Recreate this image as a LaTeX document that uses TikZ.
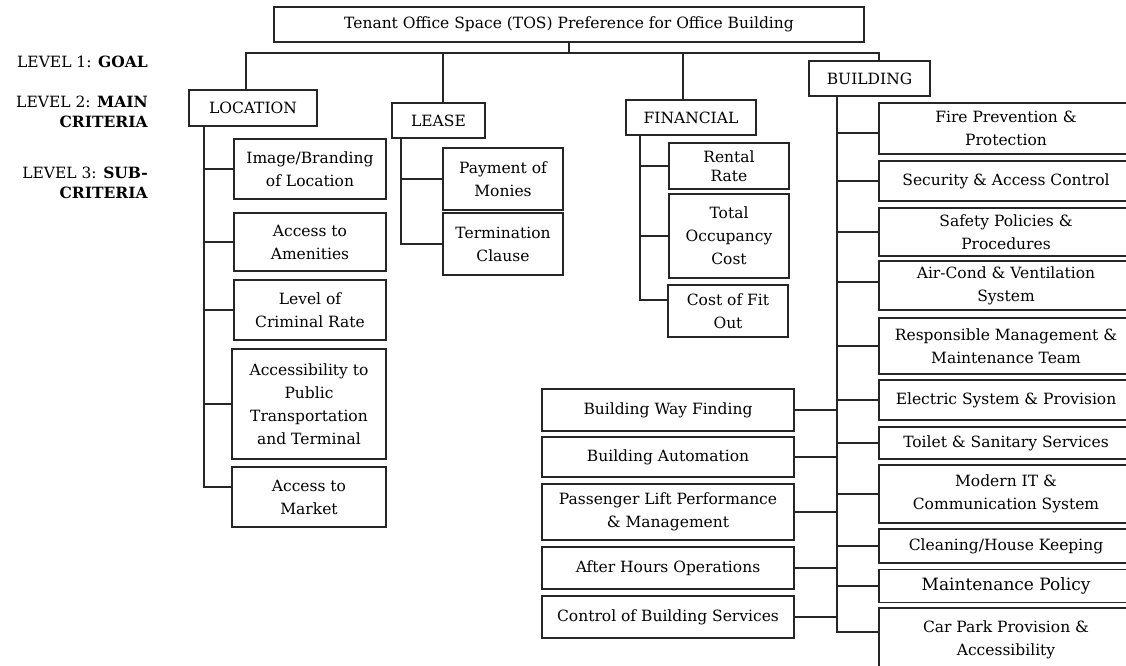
\documentclass[tikz,border=0pt]{standalone}
\usepackage{fontspec}
\setmainfont{DejaVu Serif}
\newcommand{\boxfont}{\fontsize{15.5}{23}\selectfont}
\begin{document}
\begin{tikzpicture}[x=1pt, y=-1pt,
    crit/.style={rectangle, draw=black!85, line width=1.3pt, inner sep=0pt,
                 align=center, font=\boxfont},
    boxsize/.style 2 args={minimum width=#1pt, minimum height=#2pt},
    link/.style={draw=black!85, line width=1.3pt},
    lvl/.style={anchor=east, align=right, inner sep=0pt, font=\fontsize{15.5}{20}\selectfont}
]
    \useasboundingbox (0,0) rectangle (1126,665);
    \clip (0,0) rectangle (1126,665);

    % level labels
    \node[lvl] (lv1) at (148,62)  {LEVEL 1: \textbf{GOAL}};
    \node[lvl] (lv2) at (148,112) {LEVEL 2: \textbf{MAIN}\\\textbf{CRITERIA}};
    \node[lvl] (lv3) at (148,183) {LEVEL 3: \textbf{SUB-}\\\textbf{CRITERIA}};

    % goal and main criteria
    \node[crit, boxsize={590}{35}] (goal) at (569,24.5) {Tenant Office Space (TOS) Preference for Office Building};
    \node[crit, boxsize={128}{36}] (loc)   at (253,108)   {LOCATION};
    \node[crit, boxsize={93}{35}]  (lease) at (438.5,120.5) {LEASE};
    \node[crit, boxsize={130}{35}] (fin)   at (691,117.5) {FINANCIAL};
    \node[crit, boxsize={121}{35}] (bld)   at (869.5,78.5) {BUILDING};

    % location
    \node[crit, boxsize={152}{60}]  (img)  at (310,169) {Image/Branding\\of Location};
    \node[crit, boxsize={152}{58}]  (amen) at (310,242) {Access to\\Amenities};
    \node[crit, boxsize={152}{60}]  (crim) at (310,310) {Level of\\Criminal Rate};
    \node[crit, boxsize={154}{110}] (pub)  at (309,404) {Accessibility to\\Public\\Transportation\\and Terminal};
    \node[crit, boxsize={154}{60}]  (mkt)  at (309,497) {Access to\\Market};

    % lease
    \node[crit, boxsize={120}{62}] (pay)  at (503,179) {Payment of\\Monies};
    \node[crit, boxsize={120}{62}] (term) at (503,244) {Termination\\Clause};

    % financial
    \node[crit, boxsize={120}{46}, font=\fontsize{15.5}{19}\selectfont] (rent) at (729,166) {Rental\\Rate};
    \node[crit, boxsize={120}{84}] (toc)  at (729,236) {Total\\Occupancy\\Cost};
    \node[crit, boxsize={120}{52}] (fit)  at (728,311) {Cost of Fit\\Out};

    % building, right column
    \node[crit, boxsize={254}{51}] (fire)  at (1006,128.5) {Fire Prevention \&\\Protection};
    \node[crit, boxsize={254}{40}] (sec)   at (1006,181)   {Security \& Access Control};
    \node[crit, boxsize={254}{48}] (safe)  at (1006,232)   {Safety Policies \&\\Procedures};
    \node[crit, boxsize={254}{49}] (air)   at (1006,285.5) {Air-Cond \& Ventilation\\System};
    \node[crit, boxsize={254}{56}] (resp)  at (1006,346)   {Responsible Management \&\\Maintenance Team};
    \node[crit, boxsize={254}{40}] (elec)  at (1006,400)   {Electric System \& Provision};
    \node[crit, boxsize={254}{32}] (toil)  at (1006,443)   {Toilet \& Sanitary Services};
    \node[crit, boxsize={254}{58}] (it)    at (1006,494)   {Modern IT \&\\Communication System};
    \node[crit, boxsize={254}{34}] (clean) at (1006,546)   {Cleaning/House Keeping};
    \node[crit, boxsize={254}{33}, font=\fontsize{17}{22}\selectfont] (maint) at (1006,586) {Maintenance Policy};
    \node[crit, boxsize={254}{64}] (car)   at (1006,640)   {Car Park Provision \&\\Accessibility};

    % building, left column
    \node[crit, boxsize={252}{42}] (way)   at (668,410) {Building Way Finding};
    \node[crit, boxsize={252}{40}] (auto)  at (668,457) {Building Automation};
    \node[crit, boxsize={252}{56}] (lift)  at (668,512) {Passenger Lift Performance\\\& Management};
    \node[crit, boxsize={252}{42}] (after) at (668,568) {After Hours Operations};
    \node[crit, boxsize={252}{42}] (ctrl)  at (668,617) {Control of Building Services};

    % goal to main criteria
    \coordinate (bus)     at (569,53);
    \coordinate (locin)   at (246,53);
    \coordinate (leasein) at (443,53);
    \coordinate (finin)   at (683,53);
    \coordinate (bldin)   at (879,53);
    \draw[link] (goal.south) -- (bus);
    \draw[link] (locin |- loc.north) -- (locin) -- (bldin) -- (bldin |- bld.north);
    \draw[link] (leasein) -- (leasein |- lease.north);
    \draw[link] (finin) -- (finin |- fin.north);

    % spines
    \coordinate (locsp)   at (204,0);
    \coordinate (leasesp) at (401,0);
    \coordinate (finsp)   at (640,0);
    \coordinate (bldsp)   at (837,0);

    \draw[link] (locsp |- loc.south) |- ([yshift=10pt]mkt.west);
    \foreach \c in {img,amen,crim,pub}
        \draw[link] (locsp |- \c.west) -- (\c.west);

    \draw[link] (leasesp |- lease.south) |- (term.west);
    \draw[link] (leasesp |- pay.west) -- (pay.west);

    \draw[link] (finsp |- fin.south) |- ([yshift=11pt]fit.west);
    \foreach \c in {rent,toc}
        \draw[link] (finsp |- \c.west) -- (\c.west);

    \draw[link] (bldsp |- bld.south) |- ([yshift=8pt]car.west);
    \draw[link] (bldsp |- fire.west) ++(0,4.5) -- ([yshift=-4.5pt]fire.west);
    \draw[link] (bldsp |- air.west) ++(0,-3.5) -- ([yshift=3.5pt]air.west);
    \foreach \c in {sec,safe,resp,elec,toil,it,clean,maint}
        \draw[link] (bldsp |- \c.west) -- (\c.west);
    \foreach \c in {way,auto,lift,after,ctrl}
        \draw[link] (\c.east) -- (bldsp |- \c.east);
\end{tikzpicture}
\end{document}
